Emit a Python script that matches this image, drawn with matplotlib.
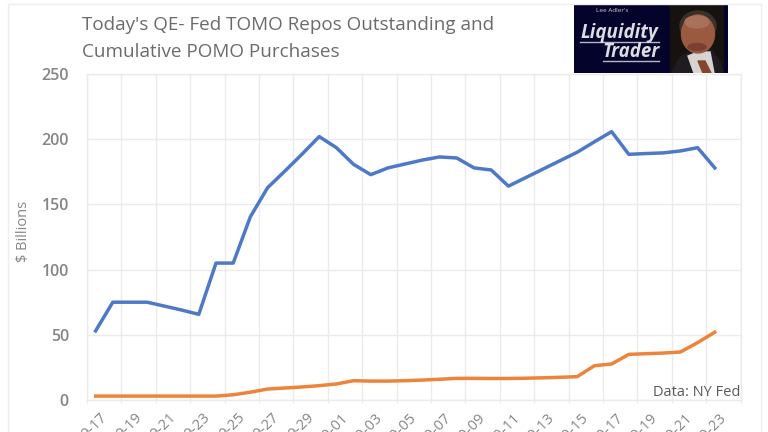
import matplotlib
matplotlib.use("Agg")
import matplotlib.pyplot as plt
from matplotlib.patches import Rectangle, Ellipse, Polygon

W, H = 768, 432

days = ["9-17","9-18","9-19","9-20","9-21","9-22","9-23","9-24","9-25","9-26","9-27","9-28","9-29","9-30",
        "10-01","10-02","10-03","10-04","10-05","10-06","10-07","10-08","10-09","10-10","10-11","10-12",
        "10-13","10-14","10-15","10-16","10-17","10-18","10-19","10-20","10-21","10-22","10-23"]
repos = [53,75,75,75,72,69,65.7,105,105,140.6,162.8,175.5,188.5,202,193.5,180.7,172.8,178,181,184,186.4,
         185.6,178,176.4,164,170.5,177,183.5,190,198,205.8,188.4,189,189.5,191,193.5,178]
pomo = [3,3,3,3,3,3,3,3,4,6,8.4,9.2,10,11,12.3,14.8,14.5,14.5,14.8,15.3,15.9,16.6,16.6,16.5,16.5,16.7,
        17,17.4,17.9,26.3,27.6,35,35.5,36,36.8,44,52]
yticks = [0,50,100,150,200,250]
title_lines = ["Today's QE- Fed TOMO Repos Outstanding and", "Cumulative POMO Purchases"]

plt.rcParams["font.family"] = ["Open Sans", "DejaVu Sans"]
fig = plt.figure(figsize=(W/100, H/100), dpi=100, facecolor="white")

def fx(p): return p / W
def fy(p): return 1 - p / H

# faint chart-area edges
for xp in (8, 761):
    fig.add_artist(plt.Line2D([fx(xp)]*2, [0, fy(4)], color="#eeeeee", linewidth=1))
fig.add_artist(plt.Line2D([fx(8), fx(761)], [fy(4)]*2, color="#eeeeee", linewidth=1))

L, R, T, B = 87, 740.6, 74, 400
ax = fig.add_axes([fx(L), fy(B), (R-L)/W, (B-T)/H])
ax.set_xlim(-0.5, 37.5)
ax.set_ylim(0, 250)
x = list(range(len(days)))

ax.set_yticks(yticks)
ax.set_xticks([i - 0.5 for i in range(0, 39, 2)])
ax.grid(True, color="#ebebeb", linewidth=1.0)
ax.set_axisbelow(True)
for s in ax.spines.values():
    s.set_color("#ebebeb"); s.set_linewidth(1.0)
ax.tick_params(axis="y", length=0, labelsize=11.5, labelcolor="#858585", pad=13)
ax.tick_params(axis="x", length=2.5, color="#ebebeb", width=1.0)
ax.set_xticklabels([])
for lab in ax.get_yticklabels():
    lab.set_fontweight("semibold")

ax.plot(x, repos, color="#4472c4", linewidth=2.5, solid_joinstyle="round", alpha=.95)
ax.plot(x, pomo, color="#ed7d31", linewidth=2.5, solid_joinstyle="round", alpha=.95)

for i in range(0, len(days), 2):
    ax.annotate(days[i], xy=(i, 0), xycoords=("data", "axes fraction"), xytext=(3, -7),
                textcoords="offset points", rotation=45, rotation_mode="anchor",
                ha="right", va="top", fontsize=10.5, color="#858585", annotation_clip=False)

fig.text(fx(23), fy(231), "$ Billions", rotation=90, fontsize=10.5, color="#858585", ha="center", va="center")
fig.text(fx(740), fy(393), "Data: NY Fed", ha="right", va="center", fontsize=10.5, color="#59595f")

fig.text(fx(82), fy(25), title_lines[0], fontsize=13.6, color="#6b6b6b", va="center")
fig.text(fx(82), fy(52), title_lines[1], fontsize=13.6, color="#6b6b6b", va="center")

# logo banner
LL, LR, LT, LB = 574, 728, 4, 73
logo = fig.add_axes([fx(LL), fy(LB), (LR-LL)/W, (LB-LT)/H])
logo.set_xlim(LL, LR); logo.set_ylim(LB, LT)
logo.axis("off")
logo.add_patch(Rectangle((LL, LT), LR-LL, LB-LT, color="#03032b"))
logo.add_patch(Rectangle((670, LT+1), 53, LB-LT-1, color="#151210"))
logo.add_patch(Ellipse((698, 26), 36, 30, color="#3a3028"))
logo.add_patch(Polygon([[672,73],[680,57],[692,50],[712,50],[720,62],[723,73]], color="#1e1c20"))
logo.add_patch(Polygon([[688,56],[698,52],[710,52],[714,73],[694,73]], color="#d6d3d2"))
logo.add_patch(Polygon([[698,61],[705,61],[711,73],[703,73]], color="#84452d"))
logo.add_patch(Ellipse((698, 34), 33, 38, color="#9a5a42"))
logo.add_patch(Ellipse((697, 22), 24, 12, color="#a9705a"))
logo.add_patch(Ellipse((697, 47), 18, 7, color="#7c4030"))
logo.text(612, 10.5, "Lee Adler's", color="#cfd0d8", fontsize=4.6, ha="center", va="center")
logo.text(619, 33, "Liquidity", color="#dcdce2", fontsize=13.5, fontstyle="italic", fontweight="bold", ha="center", va="center")
logo.text(631, 52, "Trader", color="#dcdce2", fontsize=13.5, fontstyle="italic", fontweight="bold", ha="center", va="center")
logo.plot([580, 659], [42, 42], color="#b8b8c4", lw=1)
logo.plot([603, 659], [61, 61], color="#b8b8c4", lw=1)

fig.savefig("out.png", dpi=100)
